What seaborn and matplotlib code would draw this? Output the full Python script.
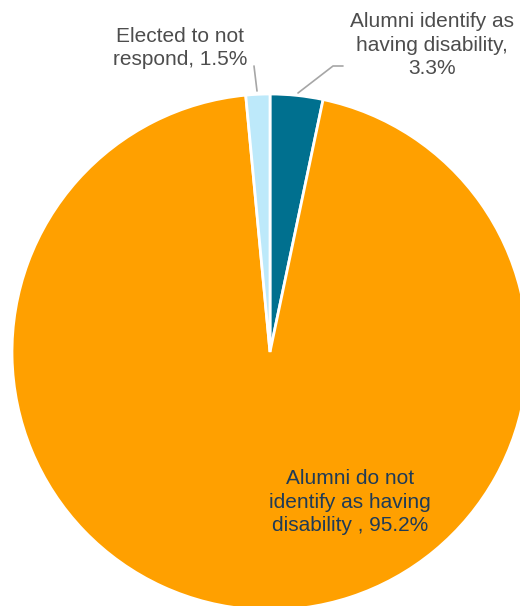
import matplotlib
matplotlib.use("Agg")
import matplotlib.pyplot as plt
import seaborn as sns

# data
categorias = ["Alumni identify as\nhaving disability,", "Alumni do not\nidentify as having\ndisability ,", "Elected to not\nrespond,"]
valores = [3.3, 95.2, 1.5]
cores = ["#00708F", "#FFA000", "#BDE9FA"]

sns.set_theme(style="white")
plt.rcParams['font.family'] = ['Liberation Sans', 'DejaVu Sans']

fig = plt.figure(figsize=(5.2, 6.06), dpi=100)
ax = fig.add_axes([0, 0, 1, 1])

R = 258.0
cx, cy = 270.0, 352.0
ax.pie(valores, colors=cores, startangle=90, counterclock=False,
       radius=1.0, wedgeprops=dict(edgecolor="white", linewidth=2))

ax.set_xlim(-cx / R, (520 - cx) / R)
ax.set_ylim(-(606 - cy) / R, cy / R)
ax.set_aspect("equal")
ax.axis("off")

def px(x, y):
    return (x - cx) / R, (cy - y) / R

rotulos = [f"{c}\n{v}%" if i == 0 else f"{c} {v}%" for i, (c, v) in enumerate(zip(categorias, valores))]

# label for alumni identify
ax.text(*px(432, 45), rotulos[0], ha="center", va="center", fontsize=15,
        color="#4D4D4D", linespacing=1.3)
ax.plot(*zip(px(298, 93), px(333, 66), px(343, 66)), color="#A6A6A6", lw=1.2)

# label inside
ax.text(*px(350, 502), rotulos[1], ha="center", va="center", fontsize=15,
        color="#1F3B57", linespacing=1.3)

# elected label
ax.text(*px(180, 48), rotulos[2], ha="center", va="center", fontsize=15,
        color="#4D4D4D", linespacing=1.3)
ax.plot(*zip(px(257, 91), px(254, 66)), color="#A6A6A6", lw=1.2)

fig.savefig("out.png", dpi=100)
